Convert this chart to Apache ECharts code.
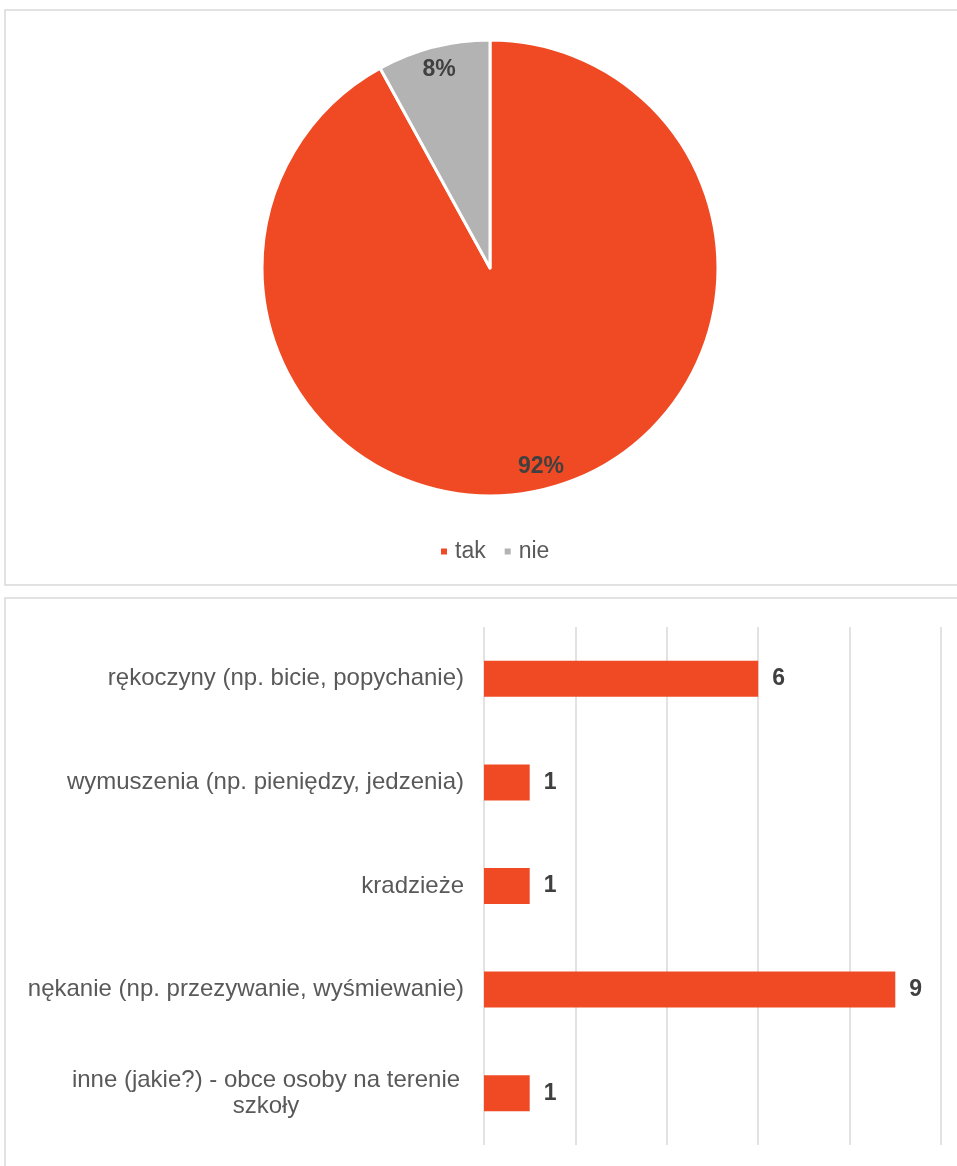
<!DOCTYPE html>
<html>
<head>
<meta charset="utf-8">
<script src="https://cdn.jsdelivr.net/npm/echarts@6/dist/echarts.min.js"></script>
<style>
  html, body { margin: 0; padding: 0; background: #fff; }
  #chart { width: 957px; height: 1166px; }
</style>
</head>
<body>
<div id="chart"></div>
<script>
/* dane wykresu kołowego */
const pieNames = ['tak', 'nie']
const pieValues = [92, 8]
const pieColors = ['#EF4A23', '#B3B3B3']

/* dane wykresu słupkowego */
const barCategories = [
  'rękoczyny (np. bicie, popychanie)',
  'wymuszenia (np. pieniędzy, jedzenia)',
  'kradzieże',
  'nękanie (np. przezywanie, wyśmiewanie)',
  'inne (jakie?) - obce osoby na terenie\nszkoły'
]
const barValues = [6, 1, 1, 9, 1]

const fontFam = '"Liberation Sans", Arial, sans-serif'
const chart = echarts.init(document.getElementById('chart'))

const pieData = pieNames.map((name, i) => ({
  name, value: pieValues[i], itemStyle: { color: pieColors[i] }
}))

const option = {
  animation: false,
  textStyle: { fontFamily: fontFam },
  graphic: [
    { type: 'rect', shape: { x: 5, y: 10, width: 1000, height: 575 },
      style: { fill: 'none', stroke: '#D9D9D9', lineWidth: 1.5 }, silent: true },
    { type: 'rect', shape: { x: 5, y: 598, width: 1000, height: 700 },
      style: { fill: 'none', stroke: '#D9D9D9', lineWidth: 1.5 }, silent: true }
  ],
  legend: {
    data: pieNames,
    left: 434,
    top: 535,
    icon: 'rect',
    itemWidth: 8,
    itemHeight: 8,
    itemGap: 17,
    textStyle: { fontSize: 23, color: '#595959', fontFamily: fontFam, padding: [0, 0, 0, 2] }
  },
  grid: { left: 484, right: 16, top: 627, bottom: 21 },
  xAxis: {
    type: 'value',
    min: 0, max: 10, interval: 2,
    axisLine: { show: false },
    axisTick: { show: false },
    axisLabel: { show: false },
    splitLine: { lineStyle: { color: '#D9D9D9', width: 1.5 } }
  },
  yAxis: {
    type: 'category',
    inverse: true,
    data: barCategories,
    axisLine: { show: false },
    axisTick: { show: false },
    axisLabel: {
      margin: 20,
      fontSize: 24,
      color: '#595959',
      fontFamily: fontFam,
      lineHeight: 26,
      formatter: (val) => {
        if (val.indexOf('\n') < 0) return val
        return val.split('\n').map(s => '{c|' + s + '}').join('\n')
      },
      rich: {
        c: { width: 396, align: 'center', fontSize: 24, color: '#595959', fontFamily: fontFam, lineHeight: 26 }
      }
    }
  },
  series: [
    {
      type: 'pie',
      center: [490, 268],
      radius: [0, 228],
      startAngle: 90,
      clockwise: true,
      data: pieData,
      itemStyle: { borderColor: '#fff', borderWidth: 3 },
      label: { show: false },
      labelLine: { show: false },
      emphasis: { disabled: true }
    },
    {
      // przezroczysty pierścień tylko dla etykiet procentowych
      type: 'pie',
      center: [490, 268],
      radius: [176, 228],
      startAngle: 90,
      clockwise: true,
      silent: true,
      legendHoverLink: false,
      data: pieNames.map((name, i) => ({ name, value: pieValues[i] })),
      itemStyle: { color: 'rgba(0,0,0,0)', borderWidth: 0 },
      label: {
        show: true,
        position: 'inside',
        formatter: '{d}%',
        fontSize: 23,
        fontWeight: 'bold',
        color: '#404040',
        fontFamily: fontFam
      },
      labelLine: { show: false },
      emphasis: { disabled: true }
    },
    {
      type: 'bar',
      data: barValues,
      barWidth: 36,
      itemStyle: { color: '#EF4A23' },
      label: {
        show: true,
        position: 'right',
        distance: 14,
        fontSize: 23,
        fontWeight: 'bold',
        color: '#404040',
        fontFamily: fontFam
      },
      emphasis: { disabled: true }
    }
  ]
}

chart.setOption(option)
</script>
</body>
</html>
